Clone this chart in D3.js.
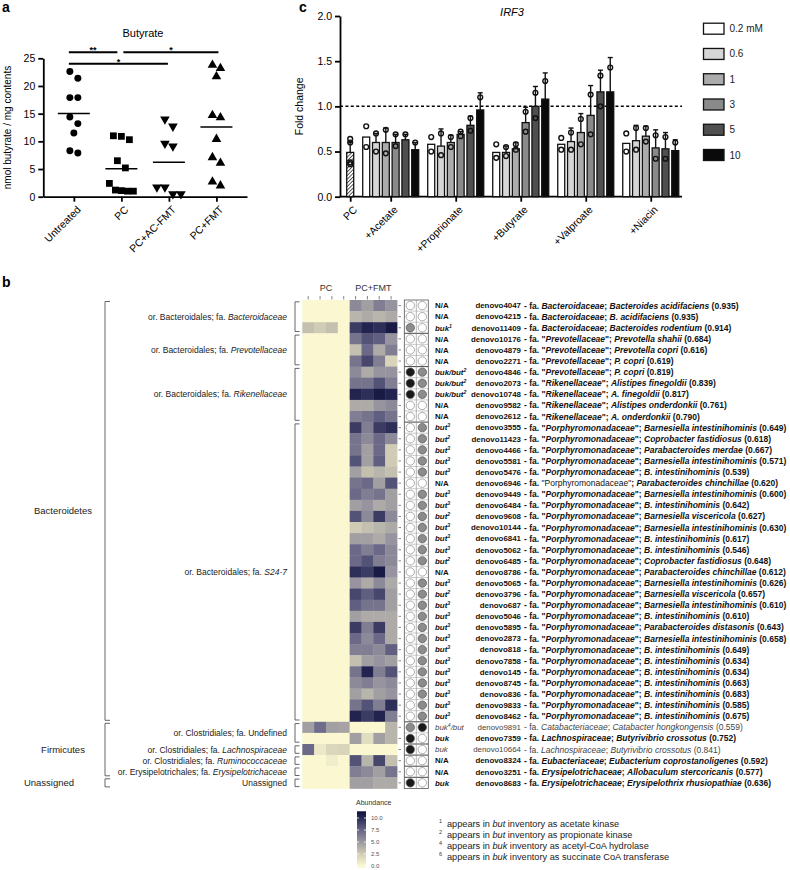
<!DOCTYPE html>
<html>
<head>
<meta charset="utf-8">
<script src="https://cdn.jsdelivr.net/npm/d3@7"></script>
<style>
  body { margin: 0; background: #fff; }
  svg { display: block; }
</style>
</head>
<body>
<svg id="fig" width="790" height="870"></svg>
<script>
// ---------- panel a: butyrate per mouse
const butGroups = ["Untreated", "PC", "PC+AC-FMT", "PC+FMT"];
const butValues = [
  [22.6, 21.4, 17.9, 17.9, 14.4, 13.2, 11.5, 8.3, 7.9],
  [11.0, 10.3, 10.9, 6.5, 5.2, 2.4, 1.1, 1.0, 1.0, 1.2],
  [14.0, 12.7, 9.6, 9.1, 1.7, 1.7, 0.5, 0.5],
  [23.8, 23.2, 21.7, 14.7, 14.3, 10.4, 7.1, 6.1, 2.7, 2.0]
];
const butTicks = [0, 5, 10, 15, 20, 25];
const butSig = [
  { from: "Untreated", to: "PC", label: "**", level: 1 },
  { from: "PC", to: "PC+FMT", label: "*", level: 1 },
  { from: "Untreated", to: "PC+AC-FMT", label: "*", level: 0 }
];

// ---------- panel c: IRF3 fold change
const treatments = ["PC", "+Acetate", "+Proprionate", "+Butyrate", "+Valproate", "+Niacin"];
const doses = ["0.2 mM", "0.6", "1", "3", "5", "10"];
const pcMean = 0.49, pcErr = 0.6;
const pcPoints = [0.64, 0.6, 0.38, 0.36];
const foldMean = [
  [0.66, 0.60, 0.60, 0.60, 0.63, 0.52],
  [0.58, 0.56, 0.60, 0.69, 0.79, 0.96],
  [0.49, 0.49, 0.53, 0.82, 1.00, 1.08],
  [0.58, 0.61, 0.71, 0.90, 1.16, 1.16],
  [0.59, 0.62, 0.67, 0.54, 0.53, 0.51]
];
const foldErr = [
  [0.66, 0.70, 0.76, 0.69, 0.69, 0.60],
  [0.58, 0.75, 0.68, 0.72, 0.89, 1.15],
  [0.49, 0.56, 0.60, 0.99, 1.22, 1.37],
  [0.58, 0.76, 0.92, 1.23, 1.40, 1.54],
  [0.59, 0.79, 0.78, 0.74, 0.71, 0.63]
];
const foldPts = [
  [[0.78, 0.55], [0.70, 0.50], [0.74, 0.48], [0.69, 0.56], [0.69], [0.60]],
  [[0.66, 0.50], [0.70, 0.46], [0.66, 0.55], [0.72, 0.67], [0.87, 0.73], [1.10]],
  [[0.58, 0.43], [0.55, 0.45], [0.58, 0.52], [0.94, 0.72], [1.15, 0.87], [1.28]],
  [[0.65, 0.52], [0.71, 0.52], [0.86, 0.58], [1.13, 0.69], [1.34, 1.00], [1.43]],
  [[0.70, 0.50], [0.76, 0.52], [0.76, 0.61], [0.68, 0.42], [0.66, 0.42], [0.60]]
];
const foldTicks = [0, 0.5, 1, 1.5, 2];

// ---------- panel b: OTU heatmap
const otuIds = ["denovo4047","denovo4215","denovo11409","denovo10176","denovo4879","denovo2271",
  "denovo4846","denovo2073","denovo10748","denovo9582","denovo2612","denovo3555","denovo11423",
  "denovo4466","denovo5581","denovo5476","denovo6946","denovo9449","denovo6484","denovo9608",
  "denovo10144","denovo6841","denovo5062","denovo6485","denovo8786","denovo5065","denovo3796",
  "denovo687","denovo5046","denovo5895","denovo2873","denovo818","denovo7858","denovo145",
  "denovo8745","denovo836","denovo9833","denovo8462","denovo9891","denovo7359","denovo10664",
  "denovo8324","denovo3251","denovo8683"];
const geneLabels = ["N/A","N/A","buk^1","N/A","N/A","N/A","buk/but^2","buk/but^2","buk/but^2","N/A","N/A",
  "but^3","but^2","but^3","but^3","but^3","N/A","but^3","but^3","but^2","but^3","but^3","but^3","but^2",
  "N/A","but^3","but^2","but^3","but^3","but^3","but^3","but^3","but^3","but^3","but^3","but^3","but^3",
  "but^3","buk^4/but","buk","buk","N/A","N/A","buk"];
const P = '"Porphyromonadaceae"';
const families = ["Bacteroidaceae","Bacteroidaceae","Bacteroidaceae",
  '"Prevotellaceae"','"Prevotellaceae"','"Prevotellaceae"','"Prevotellaceae"',
  '"Rikenellaceae"','"Rikenellaceae"','"Rikenellaceae"','"Rikenellaceae"',
  P,P,P,P,P,P,P,P,P,P,P,P,P,P,P,P,P,P,P,P,P,P,P,P,P,P,P,
  "Catabacteriaceae","Lachnospiraceae","Lachnospiraceae","Eubacteriaceae",
  "Erysipelotrichaceae","Erysipelotrichaceae"];
const species = ["Bacteroides acidifaciens","B. acidifaciens","Bacteroides rodentium",
  "Prevotella shahii","Prevotella copri","P. copri","P. copri","Alistipes finegoldii",
  "A. finegoldii","Alistipes onderdonkii","A. onderdonkii","Barnesiella intestinihominis",
  "Coprobacter fastidiosus","Parabacteroides merdae","Barnesiella intestinihominis",
  "B. intestinihominis","Parabacteroides chinchillae","Barnesiella intestinihominis",
  "B. intestinihominis","Barnesiella viscericola","Barnesiella intestinihominis",
  "B. intestinihominis","B. intestinihominis","Coprobacter fastidiosus",
  "Parabacteroides chinchillae","Barnesiella intestinihominis","Barnesiella viscericola",
  "Barnesiella intestinihominis","B. intestinihominis","Parabacteroides distasonis",
  "Barnesiella intestinihominis","B. intestinihominis","B. intestinihominis",
  "B. intestinihominis","B. intestinihominis","B. intestinihominis","B. intestinihominis",
  "B. intestinihominis","Catabacter hongkongensis","Butyrivibrio crossotus",
  "Butyrivibrio crossotus","Eubacterium coprostanoligenes","Allobaculum stercoricanis",
  "Erysipelothrix rhusiopathiae"];
const scores = [0.935,0.935,0.914,0.684,0.616,0.619,0.819,0.839,0.817,0.761,0.790,0.649,0.618,
  0.667,0.571,0.539,0.620,0.600,0.642,0.627,0.630,0.617,0.546,0.648,0.612,0.626,0.657,0.610,
  0.610,0.643,0.658,0.649,0.634,0.634,0.663,0.683,0.585,0.675,0.559,0.752,0.841,0.592,0.577,0.636];
// 0 = no hit, 1 = partial hit (grey), 2 = hit (black)
const bukHit = [0,0,1,0,0,0,2,2,2,0,0, 0,0,0,0,0,0,0,0,0,0,0,0,0,0,0,0,0,0,0,0,0,0,0,0,0,0,0, 1,2,2,0,0,2];
const butHit = [0,0,0,0,0,0,1,1,1,0,0, 1,1,1,1,1,0,1,1,1,1,1,1,1,0,1,1,1,1,1,1,1,1,1,1,1,1,1, 2,0,0,0,0,0];
const samples = ["PC-1","PC-2","PC-3","PC-4","FMT-1","FMT-2","FMT-3","FMT-4"];
const pcAbund = [
  [0,0,0,0],[0,0,0,0],[3,2.5,3,0],[0,0,0,0],[0,0,0,0],[0,0,0,0],[0,0,0,0],[0,0,0,0],[0,0,0,0],
  [0,0,0,0],[0,0,0,0],[0,0,0,0],[0,0,0,0],[0,0,0,0],[0,0,0,0],[0,0,0,0],[0,0,0,0],[0,0,0,0],
  [0,0,0,0],[0,0,0,0],[0,0,0,0],[0,0,0,0],[0,0,0,0],[0,0,0,0],[0,0,0,0],[0,0,0,0],[0,0,0,0],
  [0,0,0,0],[0,0,0,0],[0,0,0,0],[0,0,0,0],[0,0,0,0],[0,0,0,0],[0,0,0,0],[0,0,0,0],[0,0,0,0],
  [0,0,0,0],[0,0,0,0],[4.5,6.8,4.5,4.3],[0,0,0,0],[7,0.8,1.8,2],[0,0,0.6,0],[0,0,0,0],[0,0,0,0]
];
const fmtAbund = [
  [5.5,4.5,6,5],[3.5,4,3.5,4],[9,10,9.5,10.5],[6.5,8,7.5,5],[3,7,4,6],[6.5,8.5,6,2],
  [5.5,4,5,5],[6.5,6.5,8,6],[10,9.5,10.5,10],[4,4,5,5.5],[6,6.5,7.5,6.5],[9,6,9,9.5],
  [6.5,5.5,7,5.5],[6.5,4.5,7,2.5],[8,4.5,7.5,2.5],[4.5,3,3.5,3],[6.5,7,4.5,8],[7,6,6.5,4.5],
  [4.5,5,4,4.5],[8,5.5,9,5.5],[2.5,3,3.5,4],[4.5,4.5,4,5],[7,6,7,5.5],[7,8,6,5.5],
  [9.5,9,10.5,5],[5,4,5.5,4],[8.5,7.5,8.5,4.5],[7.5,6.5,6.5,4.5],[4.5,4,4,4],[9,6,9,4],
  [7,5.5,7,4],[6,6,5.5,7.5],[3,4.5,5,4.5],[6.5,10,6,8],[5.5,6,5,5.5],[4.5,3.5,4.5,5],
  [6.5,8,6,9.5],[10,9,10,6],[0,0,0,3.5],[4.5,1.5,4.5,3.5],[0,0,0,0],[8,3.5,8.5,3],
  [6,5.5,4.5,6.5],[4.5,4.5,4,4]
];
const orderGroups = [
  { order: "Bacteroidales", family: "Bacteroidaceae", first: "denovo4047", last: "denovo11409" },
  { order: "Bacteroidales", family: "Prevotellaceae", first: "denovo10176", last: "denovo2271" },
  { order: "Bacteroidales", family: "Rikenellaceae", first: "denovo4846", last: "denovo2612" },
  { order: "Bacteroidales", family: "S24-7", first: "denovo3555", last: "denovo8462" },
  { order: "Clostridiales", family: "Undefined", first: "denovo9891", last: "denovo7359" },
  { order: "Clostridiales", family: "Lachnospiraceae", first: "denovo10664", last: "denovo10664" },
  { order: "Clostridiales", family: "Ruminococcaceae", first: "denovo8324", last: "denovo8324" },
  { order: "Erysipelotrichales", family: "Erysipelotrichaceae", first: "denovo3251", last: "denovo3251" },
  { order: null, family: "Unassigned", first: "denovo8683", last: "denovo8683" }
];
const phyla = [
  { name: "Bacteroidetes", first: "denovo4047", last: "denovo8462" },
  { name: "Firmicutes", first: "denovo9891", last: "denovo3251" },
  { name: "Unassigned", first: "denovo8683", last: "denovo8683" }
];
const abundTicks = [0, 2.5, 5, 7.5, 10];
const footnotes = [
  ["1", "appears in *but* inventory as acetate kinase"],
  ["2", "appears in *but* inventory as propionate kinase"],
  ["4", "appears in *buk* inventory as acetyl-CoA hydrolase"],
  ["6", "appears in *buk* inventory as succinate CoA transferase"]
];

// =====================================================================
const F = "'Liberation Sans', Arial, Helvetica, sans-serif";
const svg = d3.select("#fig").attr("font-family", F);

function styleAxis(ax, size) {
  ax.attr("font-family", F).attr("font-size", size);
  ax.selectAll("path, line").attr("stroke", "#000").attr("stroke-width", 1.8);
  ax.selectAll("text").attr("fill", "#000");
}

// points in the same row are spread sideways
function dodge(vals, y, gap) {
  const idx = vals.map((v, i) => ({ v, i })).sort((a, b) => b.v - a.v);
  const out = new Array(vals.length).fill(0);
  let cl = [idx[0]];
  const flush = () => {
    const n = cl.length, step = n > 1 ? Math.min(8, 24 / (n - 1)) : 0;
    cl.forEach((d, k) => { out[d.i] = (k - (n - 1) / 2) * step; });
  };
  for (let k = 1; k < idx.length; k++) {
    if (Math.abs(y(idx[k - 1].v) - y(idx[k].v)) < gap) cl.push(idx[k]);
    else { flush(); cl = [idx[k]]; }
  }
  flush();
  return out;
}

// panel letters
svg.append("text").attr("x", 2).attr("y", 12).attr("font-size", 14).attr("font-weight", 700).text("a");
svg.append("text").attr("x", 299).attr("y", 12).attr("font-size", 14).attr("font-weight", 700).text("c");
svg.append("text").attr("x", 2).attr("y", 287).attr("font-size", 14).attr("font-weight", 700).text("b");

// ---------------- panel a
{
  const xA = d3.scalePoint().domain(butGroups).range([43.3, 247]).padding(0.643);
  const yA = d3.scaleLinear().domain([0, 25]).range([196.7, 58.3]);
  const g = svg.append("g");

  styleAxis(g.append("g").attr("transform", `translate(${xA.range()[0]},0)`)
    .call(d3.axisLeft(yA).tickValues(butTicks).tickSize(5).tickSizeOuter(0).tickPadding(3)), 10.5);
  styleAxis(g.append("g").attr("transform", `translate(0,${yA(0)})`)
    .call(d3.axisBottom(xA).tickSize(5).tickSizeOuter(0).tickFormat("")), 10.5);

  g.selectAll("text.xl").data(butGroups).join("text").attr("class", "xl")
    .attr("transform", d => `translate(${xA(d) + 5},${yA(0) + 11}) rotate(-45)`)
    .attr("text-anchor", "end").attr("dy", "0.35em").attr("font-size", 10.5).text(d => d);

  g.append("text").attr("x", 143).attr("y", 37).attr("text-anchor", "middle")
    .attr("font-size", 11).text("Butyrate");
  g.append("text").attr("transform", `translate(10.5,${(yA(0) + yA(25)) / 2}) rotate(-90)`)
    .attr("text-anchor", "middle").attr("font-size", 10).text("nmol butyrate / mg contents");

  const shape = [d3.symbolCircle, d3.symbolSquare, d3.symbolTriangle, d3.symbolTriangle];
  const area = [38, 46, 40, 40];
  const rot = [0, 0, 180, 0];
  butGroups.forEach((grp, gi) => {
    const vals = butValues[gi];
    const off = dodge(vals, yA, 7.9);
    g.append("g").selectAll("path").data(vals).join("path")
      .attr("transform", (v, i) => `translate(${xA(grp) + off[i]},${yA(v)}) rotate(${rot[gi]})`)
      .attr("d", d3.symbol().type(shape[gi]).size(area[gi]))
      .attr("fill", "#000");
    const m = d3.mean(vals);
    g.append("line").attr("x1", xA(grp) - 16).attr("x2", xA(grp) + 16)
      .attr("y1", yA(m)).attr("y2", yA(m)).attr("stroke", "#000").attr("stroke-width", 1.5);
  });

  const sigY = [yA(24), yA(26.1)];
  butSig.forEach(s => {
    const x1 = xA(s.from) + (s.from === "Untreated" ? -5 : 2);
    const x2 = xA(s.to) + (s.to === "PC" ? -4 : s.to === "PC+FMT" ? 2 : -1);
    const y = sigY[s.level];
    g.append("line").attr("x1", x1).attr("x2", x2).attr("y1", y).attr("y2", y)
      .attr("stroke", "#000").attr("stroke-width", 2);
    g.append("text").attr("x", (x1 + x2) / 2).attr("y", y + 1).attr("text-anchor", "middle")
      .attr("font-size", 9).attr("font-weight", 700).text(s.label);
  });
}

// ---------------- panel c
{
  const g = svg.append("g");
  const yC = d3.scaleLinear().domain([0, 2]).range([196.7, 16]);
  const xC = d3.scaleLinear().domain([-0.684, 34.21]).range([340, 682]);
  const gapU = 0.633, barW = 7;
  const doseFill = ["#ffffff", "#d6d6d6", "#ababab", "#8a8a8a", "#4f4f4f", "#0a0a0a"];

  const bars = [{ treat: "PC", di: -1, u: 0, mean: pcMean, err: pcErr, pts: pcPoints }];
  treatments.slice(1).forEach((t, ti) => doses.forEach((d, di) => bars.push({
    treat: t, di, u: 1 + ti * 6 + di + (ti + 1) * gapU,
    mean: foldMean[ti][di], err: foldErr[ti][di], pts: foldPts[ti][di]
  })));

  const defs = svg.append("defs");
  const pat = defs.append("pattern").attr("id", "hatch").attr("patternUnits", "userSpaceOnUse")
    .attr("width", 2.6).attr("height", 2.6).attr("patternTransform", "rotate(45)");
  pat.append("rect").attr("width", 2.6).attr("height", 2.6).attr("fill", "#fff");
  pat.append("line").attr("x1", 0).attr("x2", 0).attr("y1", 0).attr("y2", 2.6)
    .attr("stroke", "#000").attr("stroke-width", 1.3);

  // axes
  styleAxis(g.append("g").attr("transform", `translate(${xC.range()[0]},0)`)
    .call(d3.axisLeft(yC).tickValues(foldTicks).tickFormat(d3.format(".1f"))
      .tickSize(5).tickSizeOuter(0).tickPadding(3)), 10.5);
  const centers = treatments.map(t => d3.mean(bars.filter(b => b.treat === t), b => xC(b.u) + barW / 2));
  const xTick = d3.scaleOrdinal().domain(treatments).range(centers);
  const axB = g.append("g").attr("transform", `translate(0,${yC(0)})`)
    .call(d3.axisBottom(xTick).tickSize(5).tickFormat(""));
  axB.select(".domain").remove();
  axB.append("line").attr("x1", xC.range()[0]).attr("x2", xC.range()[1]);
  styleAxis(axB, 10.5);

  g.selectAll("text.xl").data(treatments).join("text").attr("class", "xl")
    .attr("transform", d => `translate(${xTick(d) + 5},${yC(0) + 11}) rotate(-45)`)
    .attr("text-anchor", "end").attr("dy", "0.35em").attr("font-size", 10.5).text(d => d);

  g.append("text").attr("transform", `translate(303,${(yC(0) + yC(2)) / 2}) rotate(-90)`)
    .attr("text-anchor", "middle").attr("font-size", 10.5).text("Fold change");
  g.append("text").attr("x", 512).attr("y", 16).attr("text-anchor", "middle")
    .attr("font-size", 11).attr("font-style", "italic").text("IRF3");

  g.append("line").attr("x1", xC.range()[0]).attr("x2", xC.range()[1])
    .attr("y1", yC(1)).attr("y2", yC(1)).attr("stroke", "#000")
    .attr("stroke-width", 1.5).attr("stroke-dasharray", "3,2.4");

  const bg = g.append("g");
  bars.forEach(b => {
    const x = xC(b.u), cx = x + barW / 2;
    bg.append("rect").attr("x", x).attr("y", yC(b.mean)).attr("width", barW)
      .attr("height", yC(0) - yC(b.mean))
      .attr("fill", b.di < 0 ? "url(#hatch)" : doseFill[b.di])
      .attr("stroke", "#111").attr("stroke-width", 1.3);
    if (b.err > b.mean + 0.005) {
      bg.append("line").attr("x1", cx).attr("x2", cx).attr("y1", yC(b.mean)).attr("y2", yC(b.err))
        .attr("stroke", "#111").attr("stroke-width", 1.4);
      bg.append("line").attr("x1", cx - 2.5).attr("x2", cx + 2.5).attr("y1", yC(b.err)).attr("y2", yC(b.err))
        .attr("stroke", "#111").attr("stroke-width", 1.4);
    }
    bg.selectAll(null).data(b.pts).join("circle").attr("cx", cx).attr("cy", p => yC(p))
      .attr("r", 2.4).attr("fill", "none").attr("stroke", "#111").attr("stroke-width", 1.4);
  });

  // legend
  const yL = d3.scalePoint().domain(doses).range([28.7, 155]);
  const lg = g.append("g");
  doses.forEach((d, i) => {
    lg.append("rect").attr("x", 703.5).attr("y", yL(d) - 5.5).attr("width", 20.5).attr("height", 11)
      .attr("fill", doseFill[i]).attr("stroke", "#111").attr("stroke-width", 1.3);
    lg.append("text").attr("x", 729.5).attr("y", yL(d)).attr("dy", "0.35em")
      .attr("font-size", 10).attr("fill", "#222").text(d);
  });
}

// ---------------- panel b
{
  const g = svg.append("g");
  const yH = d3.scaleBand().domain(otuIds).range([300, 788.4]);
  const xH = d3.scaleBand().domain(samples).range([302.3, 397]);
  const col = d3.scaleLinear().domain([0, 2.5, 5, 7.5, 10, 11])
    .range(["#fbf8d1", "#cfcbb4", "#97949f", "#605f81", "#22244f", "#10123e"])
    .interpolate(d3.interpolateLab).clamp(true);
  const rowTop = id => yH(id), rowMid = id => yH(id) + yH.bandwidth() / 2;

  // cells
  otuIds.forEach((id, i) => {
    const vals = pcAbund[i].concat(fmtAbund[i]);
    g.append("g").selectAll("rect").data(vals).join("rect")
      .attr("x", (v, j) => xH(samples[j])).attr("y", rowTop(id))
      .attr("width", xH.bandwidth() + 0.4).attr("height", yH.bandwidth() + 0.4)
      .attr("fill", v => col(v));
  });

  // column ticks + group headers
  g.append("g").selectAll("line").data(samples).join("line")
    .attr("x1", d => xH(d) + xH.bandwidth() / 2).attr("x2", d => xH(d) + xH.bandwidth() / 2)
    .attr("y1", 296).attr("y2", 299.5).attr("stroke", "#666").attr("stroke-width", 0.8);
  [["PC", samples.slice(0, 4)], ["PC+FMT", samples.slice(4)]].forEach(([lab, cols]) => {
    const cx = (xH(cols[0]) + xH(cols[3]) + xH.bandwidth()) / 2;
    g.append("text").attr("x", cx).attr("y", 291).attr("text-anchor", "middle")
      .attr("font-size", 9).attr("fill", "#333").text(lab);
  });

  // row ticks
  g.append("g").selectAll("line").data(otuIds).join("line")
    .attr("x1", 398.5).attr("x2", 401).attr("y1", rowMid).attr("y2", rowMid)
    .attr("stroke", "#555").attr("stroke-width", 0.7);

  // buk / but matrix
  const xD = d3.scaleBand().domain(["buk", "but"]).range([404.3, 428.3]);
  const dg = g.append("g");
  const groupEnds = new Set(orderGroups.map(o => o.last));
  otuIds.forEach((id, i) => {
    if (i > 0) dg.append("line").attr("x1", xD.range()[0]).attr("x2", xD.range()[1])
      .attr("y1", rowTop(id)).attr("y2", rowTop(id))
      .attr("stroke", groupEnds.has(otuIds[i - 1]) ? "#333" : "#aaa")
      .attr("stroke-width", groupEnds.has(otuIds[i - 1]) ? 0.9 : 0.6);
    [["buk", bukHit[i]], ["but", butHit[i]]].forEach(([k, h]) => {
      dg.append("circle").attr("cx", xD(k) + xD.bandwidth() / 2).attr("cy", rowMid(id)).attr("r", 4.2)
        .attr("fill", h === 2 ? "#1a1a1a" : h === 1 ? "#8c8c8c" : "#fff")
        .attr("stroke", h === 0 ? "#8a8a8a" : "#555").attr("stroke-width", 0.7);
    });
  });
  dg.append("line").attr("x1", xD("but")).attr("x2", xD("but"))
    .attr("y1", yH.range()[0]).attr("y2", yH.range()[1]).attr("stroke", "#888").attr("stroke-width", 0.6);
  dg.append("rect").attr("x", xD.range()[0]).attr("y", yH.range()[0])
    .attr("width", xD.range()[1] - xD.range()[0]).attr("height", yH.range()[1] - yH.range()[0])
    .attr("fill", "none").attr("stroke", "#555").attr("stroke-width", 0.8);

  // row annotation text
  const faint = new Set(["denovo9891", "denovo10664"]);
  const plainFamily = new Set(["denovo6946"]);
  const fmt3 = d3.format(".3f");
  const tg = g.append("g").attr("font-size", 7.9);
  otuIds.forEach((id, i) => {
    const y = rowMid(id);
    const wt = faint.has(id) ? 400 : 700;
    const fill = faint.has(id) ? "#444" : "#111";
    // gene label
    const gl = tg.append("text").attr("x", 435).attr("y", y).attr("dy", "0.35em")
      .attr("font-weight", wt).attr("fill", fill);
    if (geneLabels[i] === "N/A") gl.text("N/A");
    else {
      gl.attr("font-style", "italic");
      let up = false;
      geneLabels[i].split(/(\^\d)/).forEach(part => {
        if (!part) return;
        if (part[0] === "^") { gl.append("tspan").attr("dy", -3).attr("font-size", 5.2).text(part.slice(1)); up = true; }
        else { gl.append("tspan").attr("dy", up ? 3 : null).text(part); up = false; }
      });
    }
    // OTU id
    tg.append("text").attr("x", 521).attr("y", y).attr("dy", "0.35em").attr("text-anchor", "end")
      .attr("font-weight", wt).attr("fill", fill).text(id);
    // taxonomy
    const t = tg.append("text").attr("x", 524).attr("y", y).attr("dy", "0.35em")
      .attr("font-size", 8.5).attr("font-weight", wt).attr("fill", fill);
    t.append("tspan").text("- fa. ");
    const fam = families[i], quoted = fam[0] === '"', name = fam.replace(/"/g, "");
    const famPlain = plainFamily.has(id);
    if (quoted) t.append("tspan").attr("font-weight", famPlain ? 400 : null).text('"');
    t.append("tspan").attr("font-style", famPlain ? null : "italic")
      .attr("font-weight", famPlain ? 400 : null).text(name);
    if (quoted) t.append("tspan").attr("font-weight", famPlain ? 400 : null).text('"');
    t.append("tspan").text("; ");
    t.append("tspan").attr("font-style", "italic").text(species[i]);
    t.append("tspan").text(` (${fmt3(scores[i])})`);
  });

  // order brackets + labels
  const og = g.append("g");
  orderGroups.forEach(o => {
    const y0 = rowTop(o.first) + 1.8, y1 = rowTop(o.last) + yH.bandwidth() - 1.8;
    og.append("path").attr("d", `M299.5,${y0}H295V${y1}H299.5`)
      .attr("fill", "none").attr("stroke", "#555").attr("stroke-width", 0.9);
    const t = og.append("text").attr("x", 287).attr("y", (y0 + y1) / 2).attr("dy", "0.35em")
      .attr("text-anchor", "end").attr("font-size", 8.5).attr("fill", "#222");
    if (o.order === null) t.text(o.family);
    else {
      t.append("tspan").text(`or. ${o.order}; fa. `);
      t.append("tspan").attr("font-style", o.family === "Undefined" ? null : "italic").text(o.family);
    }
  });

  // phylum brackets + labels
  phyla.forEach((p, i) => {
    const y0 = rowTop(p.first) + 1.5, y1 = rowTop(p.last) + yH.bandwidth() - 1.5;
    og.append("path").attr("d", `M110,${y0}H105V${y1}H110`)
      .attr("fill", "none").attr("stroke", "#555").attr("stroke-width", 0.9);
    og.append("text").attr("x", i === 2 ? 49 : 63).attr("y", (y0 + y1) / 2).attr("dy", "0.35em")
      .attr("text-anchor", "middle").attr("font-size", 9.5).attr("fill", "#222").text(p.name);
  });

  // colour bar
  const yCb = d3.scaleLinear().domain([0, 10]).range([866, 818]);
  const grad = svg.select("defs").append("linearGradient").attr("id", "abund")
    .attr("x1", 0).attr("x2", 0).attr("y1", 1).attr("y2", 0);
  d3.range(0, 11.01, 0.5).forEach(v => grad.append("stop")
    .attr("offset", (v / 11.4) + 0.035).attr("stop-color", col(v)));
  const cbTop = yCb(11.4), cbBot = yCb(-0.4);
  g.append("rect").attr("x", 357).attr("y", cbTop).attr("width", 9).attr("height", cbBot - cbTop)
    .attr("fill", "url(#abund)");
  g.append("g").selectAll("path").data(abundTicks).join("path")
    .attr("d", v => `M357,${yCb(v)}h2M364,${yCb(v)}h2`).attr("stroke", "#fff").attr("stroke-width", 0.8);
  g.append("g").selectAll("text").data(abundTicks).join("text")
    .attr("x", 371).attr("y", v => yCb(v)).attr("dy", "0.35em")
    .attr("font-size", 6).attr("fill", "#555").text(d3.format(".1f"));
  g.append("text").attr("x", 356).attr("y", 805).attr("font-size", 7).attr("fill", "#333").text("Abundance");

  // footnotes
  const yF = d3.scalePoint().domain(footnotes.map(f => f[0])).range([824, 857]);
  footnotes.forEach(([n, txt]) => {
    g.append("text").attr("x", 439).attr("y", yF(n) - 1.5).attr("font-size", 5.5).attr("fill", "#333").text(n);
    const t = g.append("text").attr("x", 447).attr("y", yF(n)).attr("dy", "0.35em")
      .attr("font-size", 9.2).attr("fill", "#222");
    txt.split(/(\*[^*]+\*)/).forEach(part => {
      if (!part) return;
      if (part[0] === "*") t.append("tspan").attr("font-style", "italic").text(part.slice(1, -1));
      else t.append("tspan").text(part);
    });
  });
}
</script>
</body>
</html>
